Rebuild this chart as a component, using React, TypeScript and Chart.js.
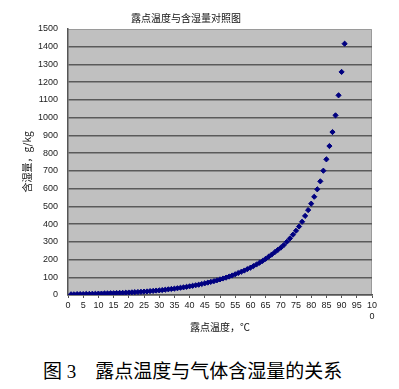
import React, { useEffect, useRef } from "react";
import { Chart, registerables } from "chart.js";

Chart.register(...registerables);

const chartTitle = "露点温度与含湿量对照图";
const xAxisTitle = "露点温度，℃";
const yAxisTitle = "含湿量，g/kg";
const caption = "图 3\u3000露点温度与气体含湿量的关系";

const dewPoint = [
  1, 2, 3, 4, 5, 6, 7, 8, 9, 10,
  11, 12, 13, 14, 15, 16, 17, 18, 19, 20,
  21, 22, 23, 24, 25, 26, 27, 28, 29, 30,
  31, 32, 33, 34, 35, 36, 37, 38, 39, 40,
  41, 42, 43, 44, 45, 46, 47, 48, 49, 50,
  51, 52, 53, 54, 55, 56, 57, 58, 59, 60,
  61, 62, 63, 64, 65, 66, 67, 68, 69, 70,
  71, 72, 73, 74, 75, 76, 77, 78, 79, 80,
  81, 82, 83, 84, 85, 86, 87, 88, 89, 90, 91,
];

const moisture = [
  4, 4, 5, 5, 5, 6, 6, 7, 7, 8,
  8, 9, 9, 10, 10, 11, 12, 12, 13, 14,
  15, 16, 17, 18, 19, 20, 22, 23, 25, 26,
  28, 30, 32, 34, 36, 38, 41, 43, 46, 49,
  52, 55, 58, 62, 66, 70, 74, 78, 83, 88,
  93, 98, 104, 110, 117, 124, 131, 138, 146, 154,
  163, 172, 182, 192, 204, 216, 228, 241, 254, 267,
  282, 300, 319, 340, 362, 386, 413, 446, 479, 515,
  554, 596, 641, 701, 765, 840, 919, 1013, 1126, 1258, 1417,
];

const xMin = 0;
const xMax = 100;
const xStep = 5;
const yMin = 0;
const yMax = 1500;
const yStep = 100;

export default function App() {
  const canvasRef = useRef<HTMLCanvasElement | null>(null);

  useEffect(() => {
    const canvas = canvasRef.current;
    if (!canvas) return;

    const plotBg = {
      id: "plotBg",
      beforeDraw(chart: any) {
        const { ctx, chartArea } = chart;
        if (!chartArea) return;
        ctx.save();
        ctx.fillStyle = "#c0c0c0";
        ctx.fillRect(chartArea.left, chartArea.top, chartArea.right - chartArea.left, chartArea.bottom - chartArea.top);
        ctx.strokeStyle = "#9a9a9a";
        ctx.lineWidth = 1;
        ctx.beginPath();
        ctx.moveTo(chartArea.left, chartArea.top + 0.5);
        ctx.lineTo(chartArea.right - 0.5, chartArea.top + 0.5);
        ctx.lineTo(chartArea.right - 0.5, chartArea.bottom);
        ctx.stroke();
        ctx.restore();
      },
    };

    const chart = new Chart(canvas, {
      type: "scatter",
      data: {
        datasets: [
          {
            data: dewPoint.map((x, i) => ({ x, y: moisture[i] })),
            pointStyle: "rectRot",
            pointRadius: 2.6,
            backgroundColor: "#000080",
            borderColor: "#000080",
            borderWidth: 1,
          },
        ],
      },
      options: {
        animation: false,
        responsive: false,
        maintainAspectRatio: false,
        layout: { padding: { left: 0, right: 27, top: 0, bottom: 0 } },
        plugins: {
          legend: { display: false },
          tooltip: { enabled: false },
          title: {
            display: true,
            text: chartTitle,
            color: "#111",
            font: { family: "'Noto Sans CJK SC', sans-serif", size: 10, weight: "normal" },
            padding: { top: 12, bottom: 5 },
          },
        },
        scales: {
          x: {
            type: "linear",
            min: xMin,
            max: xMax,
            afterFit(scale: any) {
              scale.height = 50;
            },
            ticks: {
              stepSize: xStep,
              autoSkip: false,
              maxRotation: 0,
              padding: 2,
              color: "#222",
              font: { family: "'Liberation Sans', Arial, sans-serif", size: 9 },
              callback: (v: any) => (v === 100 ? ["10", "0"] : String(v)),
            },
            grid: {
              drawOnChartArea: false,
              drawTicks: true,
              tickLength: 3,
              color: "#555",
              lineWidth: 1,
            },
            border: { display: true, color: "#555", width: 1.5 },
            title: {
              display: true,
              text: xAxisTitle,
              color: "#111",
              font: { family: "'Noto Sans CJK SC', sans-serif", size: 10, weight: "normal" },
              padding: { top: 0, bottom: 12 },
            },
          },
          y: {
            type: "linear",
            min: yMin,
            max: yMax,
            afterFit(scale: any) {
              scale.width = 68;
            },
            ticks: {
              stepSize: yStep,
              padding: 10,
              color: "#222",
              font: { family: "'Liberation Sans', Arial, sans-serif", size: 9 },
              callback: (v: any) => String(v),
            },
            grid: {
              drawTicks: false,
              color: (ctx: any) => (ctx.tick && ctx.tick.value === yMax ? "rgba(0,0,0,0)" : "#5a5a5a"),
              lineWidth: 1.5,
            },
            border: { display: true, color: "#555", width: 1.5 },
            title: {
              display: true,
              text: yAxisTitle,
              color: "#111",
              font: { family: "'Noto Sans CJK SC', sans-serif", size: 10, weight: "normal" },
              padding: { top: 21, bottom: 0 },
            },
          },
        },
      },
      plugins: [plotBg],
    });

    return () => {
      chart.destroy();
    };
  }, []);

  return (
    <div style={{ position: "absolute", left: 0, top: 0, width: 399, height: 389, background: "#fff" }}>
      <canvas ref={canvasRef} width={399} height={345} style={{ display: "block", width: 399, height: 345 }} />
      <div
        style={{
          position: "absolute",
          left: 43,
          top: 361,
          fontFamily: "'Liberation Serif', 'Noto Sans CJK SC', serif",
          fontSize: 19,
          lineHeight: "22px",
          color: "#000",
          whiteSpace: "pre",
        }}
      >
        {caption}
      </div>
    </div>
  );
}
